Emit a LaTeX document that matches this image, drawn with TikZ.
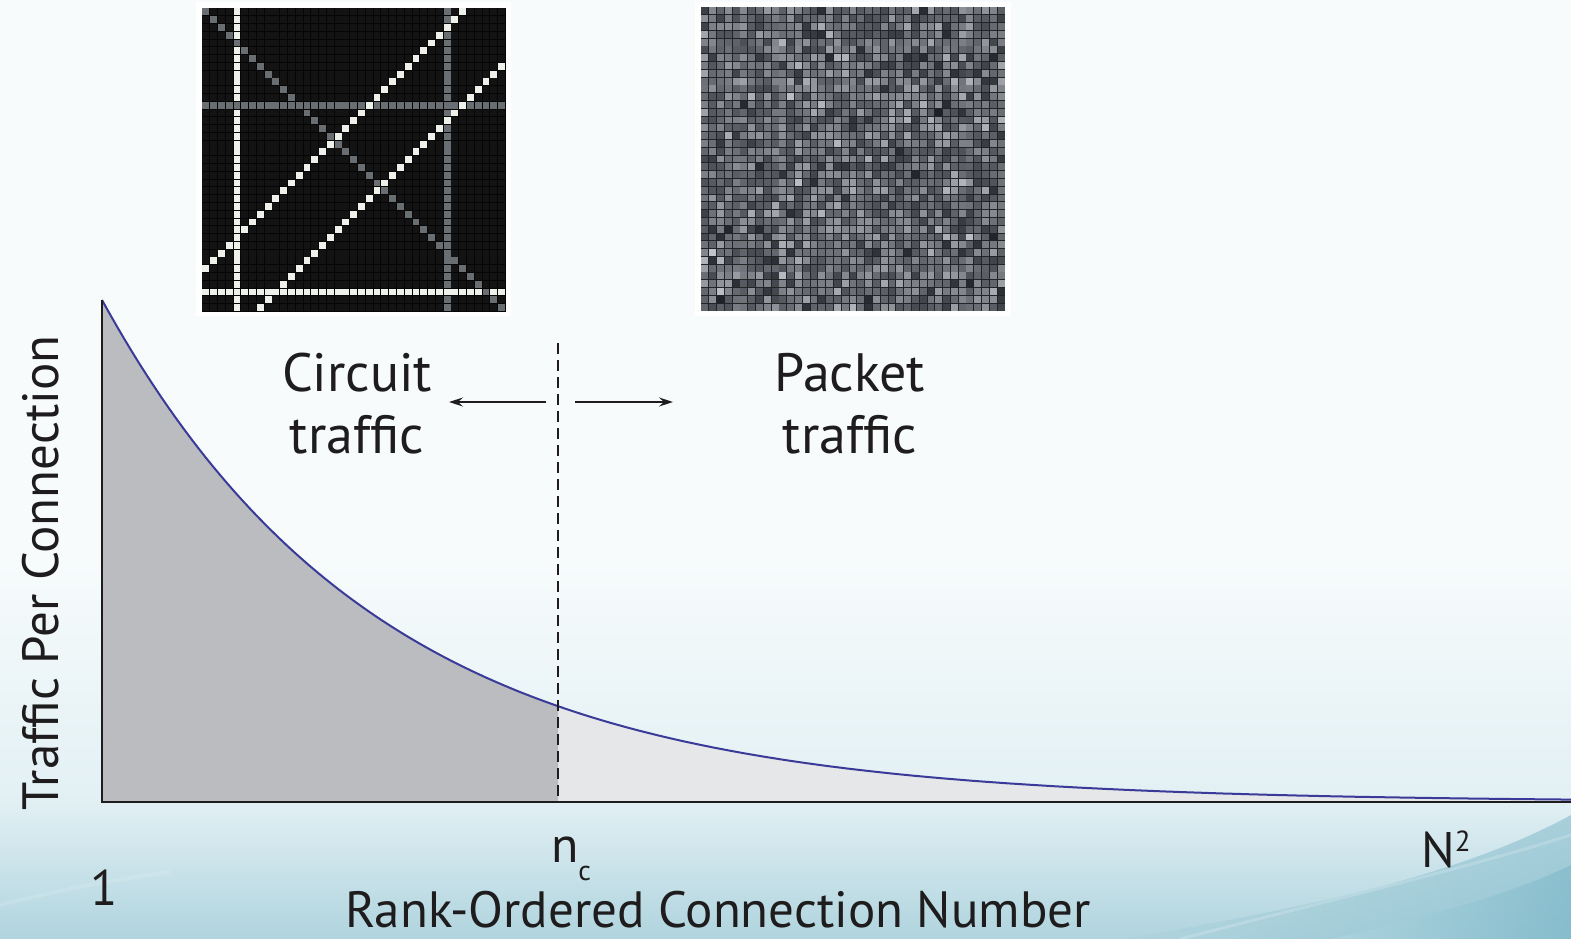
\documentclass[tikz,border=0pt]{standalone}
\usepackage{fontspec}
\setmainfont{PT Sans}
\usetikzlibrary{arrows.meta}

\definecolor{bgtop}{HTML}{F7FBFC}
\definecolor{bgmid}{HTML}{E2F0F4}
\definecolor{bgbot}{HTML}{B0D4DE}
\definecolor{swA}{HTML}{B2D6E0}
\definecolor{swB}{HTML}{7DB8C9}
\definecolor{ink}{HTML}{1E1C1D}
\definecolor{curve}{HTML}{3A3A98}
\definecolor{circfill}{HTML}{BBBCC0}
\definecolor{packfill}{HTML}{E6E7E9}
\definecolor{mblack}{HTML}{131313}
\definecolor{mwhite}{HTML}{EEF0EA}
\definecolor{mgray}{HTML}{686E72}
\definecolor{mgridA}{HTML}{050505}
\definecolor{mgridB}{HTML}{222426}

\tikzset{
  lbl/.style={font=\fontsize{54}{62}\selectfont, text=ink, align=center, inner sep=0pt},
  tick/.style={font=\fontsize{50}{56}\selectfont, text=ink, inner sep=0pt, anchor=base},
  axisline/.style={draw=ink, line width=2.5pt},
  divider/.style={draw=ink, line width=1.6pt, dash pattern=on 11pt off 6pt},
  sidearrow/.style={draw=ink, line width=1.5pt, -{Stealth[length=14pt,width=9pt,inset=5pt]}},
}

\newcommand{\decay}[1]{802-502*exp(-0.003628*(#1-102))}

\begin{document}
\begin{tikzpicture}[x=1pt,y=-1pt]
\useasboundingbox (0,0) rectangle (1571,939);

% ---- background ----
\fill[bgtop] (0,0) rectangle (1571,939);
\shade[top color=bgtop, bottom color=bgmid] (0,560) rectangle (1571,800);
\shade[top color=bgmid, bottom color=bgbot] (0,800) rectangle (1571,939);
\shade[left color=bgbot, right color=swB, opacity=0.55]
  (1120,939) .. controls (1330,905) and (1470,870) .. (1571,815) -- (1571,939) -- cycle;
\shade[left color=swA, right color=swB, opacity=0.6]
  (1330,939) .. controls (1440,915) and (1520,890) .. (1571,865) -- (1571,939) -- cycle;
\draw[white, opacity=0.18, line width=3pt]
  (1180,939) .. controls (1330,900) and (1460,870) .. (1571,835);
\draw[white, opacity=0.12, line width=4pt]
  (0,905) .. controls (60,890) and (110,880) .. (170,872);

% ---- circuit-switched traffic matrix ----
\fill[white] (196,2) rectangle (511,316);
\fill[mgridA] (202,8) rectangle (505.5,311.5);
\foreach \r in {0,...,38}{
  \foreach \c in {0,...,38}{
    \pgfmathtruncatemacro\k{(\r==\c) ? 2 : ((\r+\c==33 || \r+\c==45 || \r==36) ? 1 : ((\c==31 || \r==12) ? 2 : ((\c==4) ? 1 : 0)))}
    \ifcase\k \def\cc{mblack}\or \def\cc{mwhite}\or \def\cc{mgray}\fi
    \fill[\cc] ({202+\c*7.78+0.45},{8+\r*7.78+0.45}) rectangle ++(6.88,6.88);
  }
}

% ---- packet-switched traffic matrix ----
\fill[white] (695,2) rectangle (1011,316);
\fill[mgridB] (701,7) rectangle (1005,311);
\pgfmathsetseed{2718}
\foreach \r in {0,...,38}{
  \foreach \c in {0,...,38}{
    \pgfmathsetmacro\g{max(0.08,min(0.86,0.44+0.115*(rand+rand+rand)))}
    \pgfmathsetmacro\gr{max(0,\g-0.012)}
    \pgfmathsetmacro\gb{min(1,\g+0.025)}
    \definecolor{rc}{rgb}{\gr,\g,\gb}
    \fill[rc] ({701+\c*7.795+0.45},{7+\r*7.795+0.45}) rectangle ++(6.9,6.9);
  }
}

% ---- rank-ordered traffic curve ----
\coordinate (origin) at (102,802);
\coordinate (ytop)   at (102,300);
\coordinate (xend)   at (1571,802);
\coordinate (nctop)  at (558,343);
\coordinate (ncbot)  at (558,802);

\fill[packfill] (558,802) -- plot[domain=558:1571, samples=80] (\x,{\decay{\x}}) -- (1571,802) -- cycle;
\fill[circfill] (102,802) -- plot[domain=102:558, samples=80] (\x,{\decay{\x}}) -- (558,802) -- cycle;
\draw[curve, line width=2pt] plot[domain=102:1571, samples=200] (\x,{\decay{\x}});

\draw[axisline] (ytop) -- (origin) -- (xend);
\draw[divider] (nctop) -- (ncbot);

% ---- labels ----
\node[lbl] (circ) at (357,404) {Circuit\\traffic};
\node[lbl] (pack) at (850,404) {Packet\\traffic};

\coordinate (cl0) at (546,402);
\coordinate (cl1) at (449,402);
\coordinate (pr0) at (575,402);
\coordinate (pr1) at (673,402);
\draw[sidearrow] (cl0) -- (cl1);
\draw[sidearrow] (pr0) -- (pr1);

\node[lbl, rotate=90, anchor=base, font=\fontsize{51}{60}\selectfont] (ylab) at (58,573) {Traffic Per Connection};
\node[tick] (one) at (104,905) {1};
\node[tick] (nc) at (571,862) {n\raisebox{-18pt}{\fontsize{28}{28}\selectfont c}};
\node[tick] (nsq) at (1446,867) {N\raisebox{16pt}{\fontsize{29}{29}\selectfont 2}};
\node[tick, font=\fontsize{51}{56}\selectfont] (xlab) at (718,927) {Rank-Ordered Connection Number};
\end{tikzpicture}
\end{document}
